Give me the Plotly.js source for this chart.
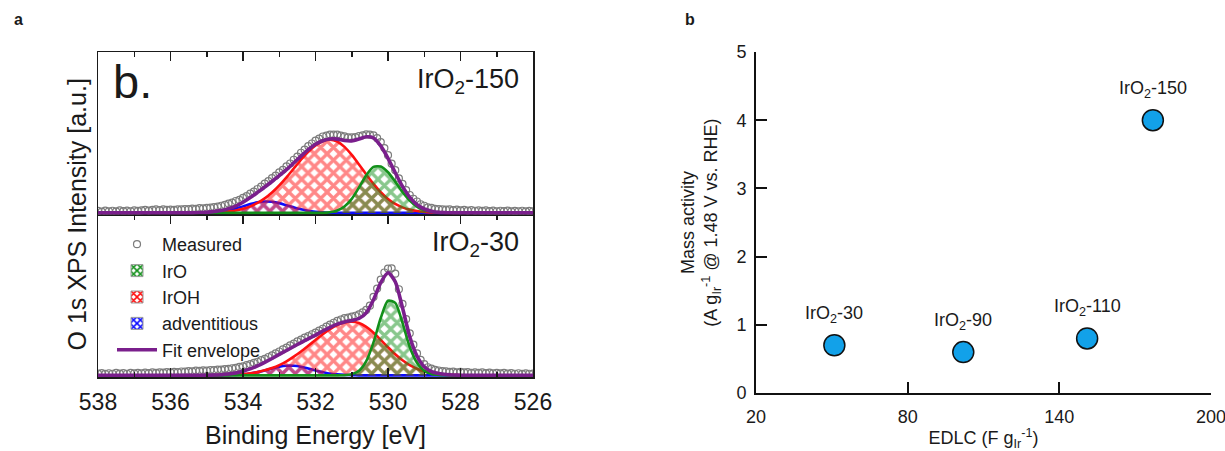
<!DOCTYPE html>
<html><head><meta charset="utf-8">
<script src="https://cdn.plot.ly/plotly-3.0.1.min.js"></script>
<style>html,body{margin:0;padding:0;background:#fff;}#chart{width:1225px;height:451px;}</style>
</head><body><div id="chart"></div>
<script>
// ---------- Panel a: O 1s XPS (binding energy, eV) ----------
const fitEnergy = [538.0,537.8,537.6,537.4,537.2,537.0,536.8,536.6,536.4,536.2,536.0,535.8,535.6,535.4,535.2,535.0,534.8,534.6,534.4,534.2,534.0,533.8,533.6,533.4,533.2,533.0,532.8,532.6,532.4,532.2,532.0,531.8,531.6,531.4,531.2,531.0,530.8,530.6,530.4,530.2,530.0,529.8,529.6,529.4,529.2,529.0,528.8,528.6,528.4,528.2,528.0,527.8,527.6,527.4,527.2,527.0,526.8,526.6,526.4,526.2,526.0];
const measEnergy = [538.0,537.9,537.8,537.7,537.6,537.5,537.4,537.3,537.2,537.1,537.0,536.9,536.8,536.7,536.6,536.5,536.4,536.3,536.2,536.1,536.0,535.9,535.8,535.7,535.6,535.5,535.4,535.3,535.2,535.1,535.0,534.9,534.8,534.7,534.6,534.5,534.4,534.3,534.2,534.1,534.0,533.9,533.8,533.7,533.6,533.5,533.4,533.3,533.2,533.1,533.0,532.9,532.8,532.7,532.6,532.5,532.4,532.3,532.2,532.1,532.0,531.9,531.8,531.7,531.6,531.5,531.4,531.3,531.2,531.1,531.0,530.9,530.8,530.7,530.6,530.5,530.4,530.3,530.2,530.1,530.0,529.9,529.8,529.7,529.6,529.5,529.4,529.3,529.2,529.1,529.0,528.9,528.8,528.7,528.6,528.5,528.4,528.3,528.2,528.1,528.0,527.9,527.8,527.7,527.6,527.5,527.4,527.3,527.2,527.1,527.0,526.9,526.8,526.7,526.6,526.5,526.4,526.3,526.2,526.1,526.0];

// IrO2-150 (upper spectrum)
const meas150 = [1.2,0.8,1.4,1.0,1.3,0.9,1.5,1.1,1.4,1.0,1.6,1.2,1.5,1.9,1.4,1.8,2.1,1.7,2.1,1.9,2.0,1.8,2.2,2.1,2.4,2.3,2.6,2.5,2.9,2.8,3.1,3.2,3.6,3.9,4.4,4.9,5.7,6.3,7.3,8.0,9.2,10.3,11.8,13.1,14.7,16.1,18.0,19.5,21.4,22.9,24.9,26.5,28.6,30.4,32.7,34.6,37.0,38.9,41.1,42.7,44.5,45.7,47.0,47.6,48.2,48.2,48.2,47.5,47.1,46.5,46.5,46.6,47.3,47.7,48.3,48.1,47.7,46.0,43.6,39.9,35.5,30.3,26.3,21.2,17.8,14.0,11.0,8.7,7.0,5.3,4.4,3.4,3.1,2.5,2.4,2.1,2.0,2.2,1.7,2.0,1.6,1.8,1.4,1.7,1.3,1.6,1.2,1.5,1.1,1.4,1.0,1.3,1.1,1.4,0.9,1.2,1.0,1.3,0.9,1.2,1.0];
const irO150  = [0,0,0,0,0,0,0,0,0,0,0,0,0,0,0,0,0,0,0,0,0,0,0,0,0,0,0,0,0,0,0,0,0.4,1.5,3.9,8.6,15.6,23.2,28.3,28.5,25.0,19.2,12.9,7.6,3.9,1.8,0.7,0.2,0.1,0,0,0,0,0,0,0,0,0,0,0,0];
const irOH150 = [0,0,0,0,0,0,0,0,0,0,0,0,0,0,0.1,0.1,0.3,0.5,0.9,1.5,2.5,4.0,6.1,8.9,12.5,16.9,21.9,27.3,32.7,37.6,41.5,44.1,45.0,43.9,40.6,35.7,29.8,23.6,17.8,12.7,8.6,5.5,3.4,2.0,1.1,0.6,0.3,0.1,0,0,0,0,0,0,0,0,0,0,0,0,0];
const adv150  = [0,0,0,0,0,0,0,0,0,0,0,0,0,0,0.1,0.2,0.5,0.9,1.7,2.7,4.0,5.4,6.5,7.0,6.8,6.0,4.7,3.4,2.2,1.3,0.7,0.3,0.1,0,0,0,0,0,0,0,0,0,0,0,0,0,0,0,0,0,0,0,0,0,0,0,0,0,0,0,0];
const env150  = [0,0,0,0,0,0,0,0,0,0,0,0,0,0,0.2,0.3,0.8,1.4,2.6,4.2,6.5,9.4,12.6,15.9,19.3,22.9,26.6,30.7,34.9,38.9,42.2,44.4,45.5,45.4,44.5,44.3,45.4,46.8,46.1,41.2,33.6,24.7,16.3,9.6,5.0,2.4,1.0,0.3,0.1,0,0,0,0,0,0,0,0,0,0,0,0];

// IrO2-30 (lower spectrum)
const meas30 = [1.1,1.4,0.9,1.3,1.0,1.5,1.1,1.4,1.0,1.6,1.2,1.5,1.3,1.7,1.4,1.8,1.5,1.9,1.7,2.0,1.8,2.2,2.0,2.4,2.3,2.6,2.5,2.9,2.8,3.1,2.9,3.3,3.2,3.6,3.6,3.9,4.0,4.4,4.6,5.2,5.6,6.3,6.9,7.7,8.4,9.4,10.2,11.3,12.3,13.6,14.7,16.0,17.1,18.5,19.6,20.9,22.0,23.2,24.2,25.3,26.3,27.6,28.7,30.0,31.2,32.4,33.6,34.4,35.2,35.6,36.2,36.7,37.6,38.8,40.3,42.9,48.3,53.4,58.9,63.3,65.7,65.9,62.6,53.0,44.0,34.6,25.9,18.9,13.5,9.6,6.9,5.0,4.2,3.4,3.0,2.6,2.5,2.2,2.3,1.9,2.1,1.8,2.0,1.6,1.9,1.5,1.8,1.4,1.7,1.3,1.6,1.2,1.5,1.1,1.4,1.0,1.3,0.9,1.2,1.0,1.1];
const irO30  = [0,0,0,0,0,0,0,0,0,0,0,0,0,0,0,0,0,0,0,0,0,0,0,0,0,0,0,0,0,0,0,0,0,0,0.1,0.7,2.8,8.7,20.3,35.3,45.9,44.6,32.3,17.5,7.8,2.8,0.9,0.3,0.1,0,0,0,0,0,0,0,0,0,0,0,0];
const irOH30 = [0,0,0,0,0,0,0,0,0,0,0,0,0,0,0,0,0.1,0.2,0.3,0.5,0.8,1.3,2.0,3.1,4.5,6.3,8.6,11.5,14.7,18.2,21.8,25.3,28.4,30.9,32.5,33.0,32.2,29.8,26.2,21.8,17.3,13.0,9.3,6.3,4.1,2.5,1.4,0.8,0.4,0.2,0.1,0,0,0,0,0,0,0,0,0,0];
const adv30  = [0,0,0,0,0,0,0,0,0,0,0,0,0,0,0,0,0,0,0.1,0.3,0.6,1.1,2.0,3.0,4.2,5.3,5.9,5.9,5.3,4.2,3.0,2.0,1.1,0.6,0.3,0.1,0,0,0,0,0,0,0,0,0,0,0,0,0,0,0,0,0,0,0,0,0,0,0,0,0];
const env30  = [0,0,0,0,0,0,0,0,0,0,0,0,0,0,0,0,0.2,0.4,0.8,1.5,2.6,4.0,5.8,8.0,10.4,12.9,15.3,17.8,20.2,22.5,24.8,27.3,29.5,31.5,32.9,33.8,35.0,38.5,46.5,57.1,63.2,57.6,41.6,23.8,11.9,5.3,2.3,1.1,0.5,0.2,0.1,0,0,0,0,0,0,0,0,0,0];

const legendNames = ['Measured','IrO','IrOH','adventitious','Fit envelope'];
const spectrumLabels = ['IrO<sub>2</sub>-150','IrO<sub>2</sub>-30'];

// ---------- Panel b: mass activity vs EDLC ----------
const samples = ['IrO<sub>2</sub>-30','IrO<sub>2</sub>-90','IrO<sub>2</sub>-110','IrO<sub>2</sub>-150'];
const edlc = [51, 102, 151, 177];
const massActivity = [0.7, 0.6, 0.8, 4.0];
const edlcTicks = [20, 80, 140, 200];

// ---------- styling ----------
const FONT = 'Liberation Sans, Arial, sans-serif';
const INK = '#1a1a1a';
const W = 1225, H = 451, MT = 52, MB = 58;
const px2x = p => p / W;
const py2y = p => (H - MB - p) / (H - MT - MB);
const C = {green:'#12901a', red:'#ff1010', blue:'#0a0aff', purple:'#7a1f8c', gray:'#7c7c7c'};

function comp(y, color, xa, ya){
  return {type:'scatter', mode:'lines', x:fitEnergy, y:y, xaxis:xa, yaxis:ya,
    line:{color:color, width:2.6, shape:'spline', smoothing:0.7},
    fill:'tozeroy', fillcolor:'rgba(255,255,255,0)',
    fillpattern:{shape:'x', fgcolor:color, bgcolor:'rgba(255,255,255,0)', size:9, solidity:0.6, fillmode:'overlay'},
    showlegend:false, hoverinfo:'skip'};
}
function meas(y, xa, ya, show){
  return {type:'scatter', mode:'markers', x:measEnergy, y:y, xaxis:xa, yaxis:ya, name:legendNames[0],
    marker:{symbol:'circle-open', size:7, color:C.gray, line:{width:1.2, color:C.gray}},
    showlegend:show, legendrank:1, hoverinfo:'skip'};
}
function env(y, xa, ya, show){
  return {type:'scatter', mode:'lines', x:fitEnergy, y:y, xaxis:xa, yaxis:ya, name:legendNames[4],
    line:{color:C.purple, width:3.6, shape:'spline', smoothing:0.7}, showlegend:show, legendrank:5, hoverinfo:'skip'};
}
function legendBox(name, color, rank){
  return {type:'bar', x:[null], y:[null], xaxis:'x', yaxis:'y', name:name, legendrank:rank,
    marker:{color:'white', line:{color:'#9a9a9a', width:1},
      pattern:{shape:'x', fgcolor:color, bgcolor:'white', size:6, solidity:0.55, fillmode:'replace'}}};
}

const data = [
  meas(meas150,'x2','y2',false), comp(adv150,C.blue,'x2','y2'), comp(irOH150,C.red,'x2','y2'), comp(irO150,C.green,'x2','y2'), env(env150,'x2','y2',false),
  meas(meas30,'x','y',true), comp(adv30,C.blue,'x','y'), comp(irOH30,C.red,'x','y'), comp(irO30,C.green,'x','y'), env(env30,'x','y',true),
  legendBox(legendNames[1], C.green, 2), legendBox(legendNames[2], C.red, 3), legendBox(legendNames[3], C.blue, 4),
  {type:'scatter', mode:'markers', x:edlc, y:massActivity, xaxis:'x3', yaxis:'y3', text:samples, hoverinfo:'x+y',
   marker:{size:21, color:'#12a1e9', line:{color:'#111', width:1.5}}, showlegend:false, cliponaxis:false}
];

const frame = {showline:true, linecolor:INK, linewidth:1.5, showgrid:false, zeroline:false};
const xTickCommon = Object.assign({}, frame, {range:[538,526], tickmode:'linear', tick0:526, dtick:2,
  ticks:'inside', ticklen:9, tickwidth:1.5, tickcolor:INK,
  minor:{tickmode:'linear', tick0:526, dtick:1, ticks:'inside', ticklen:5, tickwidth:1.5, tickcolor:INK},
  domain:[px2x(98), px2x(533)]});

const annotations = [
  {xref:'paper', yref:'paper', x:px2x(12), y:py2y(19), text:'<b>a</b>', showarrow:false, xanchor:'left', yanchor:'middle', font:{size:16, color:INK}},
  {xref:'paper', yref:'paper', x:px2x(683), y:py2y(19), text:'<b>b</b>', showarrow:false, xanchor:'left', yanchor:'middle', font:{size:16, color:INK}},
  {xref:'paper', yref:'paper', x:px2x(111), y:py2y(81), text:'b.', showarrow:false, xanchor:'left', yanchor:'middle', font:{size:47, color:INK}},
  {xref:'paper', yref:'paper', x:px2x(521), y:py2y(81), text:spectrumLabels[0], showarrow:false, xanchor:'right', yanchor:'middle', font:{size:27, color:INK}},
  {xref:'paper', yref:'paper', x:px2x(521), y:py2y(244), text:spectrumLabels[1], showarrow:false, xanchor:'right', yanchor:'middle', font:{size:27, color:INK}},
  {xref:'paper', yref:'paper', x:px2x(76), y:py2y(214.5), text:'O 1s XPS Intensity [a.u.]', textangle:-90, showarrow:false, xanchor:'center', yanchor:'middle', font:{size:25, color:INK}}
];
samples.forEach((s, i) => annotations.push({xref:'x3', yref:'y3', x:edlc[i], y:massActivity[i], text:s, showarrow:false, yshift:31, font:{size:18, color:INK}}));

const layout = {
  width:W, height:H, margin:{l:0, r:0, t:MT, b:MB}, paper_bgcolor:'#fff', plot_bgcolor:'rgba(0,0,0,0)',
  font:{family:FONT, color:INK},
  showlegend:true,
  legend:{x:px2x(112), y:py2y(226), xanchor:'left', yanchor:'top', bgcolor:'rgba(0,0,0,0)', borderwidth:0,
    font:{size:18, color:INK}, itemwidth:40, tracegroupgap:0, traceorder:'normal'},
  xaxis: Object.assign({}, xTickCommon, {anchor:'y', mirror:'ticks',
    tickfont:{size:23, color:INK}, ticklabelstandoff:4,
    title:{text:'Binding Energy [eV]', font:{size:25, color:INK}, standoff:12}}),
  xaxis2: Object.assign({}, xTickCommon, {anchor:'y2', side:'top', mirror:true, showticklabels:false}),
  yaxis: Object.assign({}, frame, {anchor:'x', domain:[py2y(377), py2y(214.5)], range:[-1,99], showticklabels:false, ticks:'', mirror:true}),
  yaxis2: Object.assign({}, frame, {anchor:'x2', domain:[py2y(214.5), 1], range:[-1,99], showticklabels:false, ticks:'', mirror:true}),
  xaxis3: {anchor:'y3', domain:[px2x(756), px2x(1211)], range:[20,200], tickmode:'array', tickvals:edlcTicks,
    ticks:'inside', ticklen:11, tickwidth:2, tickcolor:'#111', showline:true, linecolor:'#111', linewidth:2,
    showgrid:false, zeroline:false, tickfont:{size:18, color:INK}, ticklabelstandoff:6, ticklabeloverflow:'allow',
    title:{text:'EDLC (F g<sub>Ir</sub><sup>-1</sup>)', font:{size:18, color:INK}, standoff:12}},
  yaxis3: {anchor:'x3', domain:[0,1], range:[0,5], tickmode:'linear', tick0:0, dtick:1,
    ticks:'inside', ticklen:11, tickwidth:2, tickcolor:'#111', showline:true, linecolor:'#111', linewidth:2,
    showgrid:false, zeroline:false, tickfont:{size:18, color:INK}, ticklabelstandoff:4, ticklabeloverflow:'allow',
    title:{text:'Mass activity<br>(A g<sub>Ir</sub><sup>-1</sup> @ 1.48 V vs. RHE)', font:{size:18, color:INK}, standoff:14}},
  annotations: annotations
};

Plotly.newPlot('chart', data, layout, {displayModeBar:false, staticPlot:true});
</script>
</body></html>
